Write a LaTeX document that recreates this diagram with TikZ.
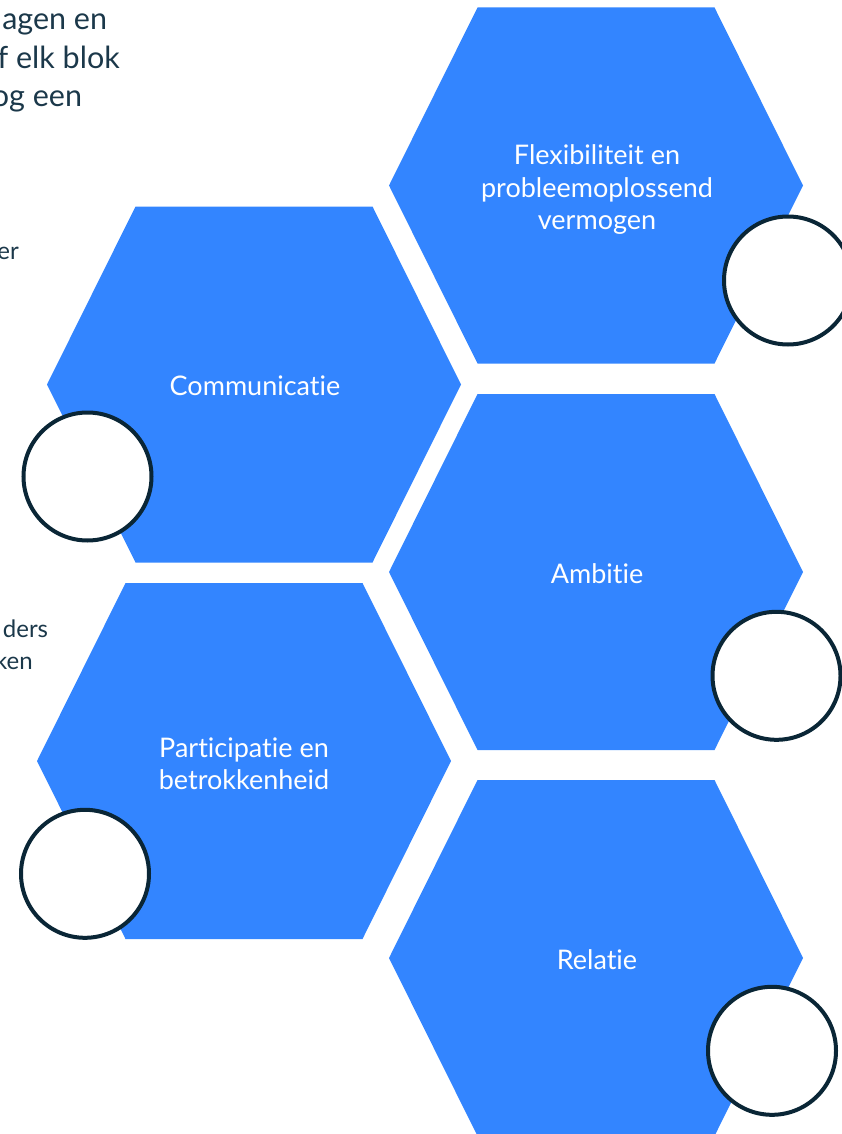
\documentclass[tikz,border=0pt]{standalone}
\usepackage{fontspec}
\setmainfont{Lato}[Ligatures=NoCommon]
\usetikzlibrary{positioning}
\definecolor{hexblue}{RGB}{51,133,255}
\definecolor{inktext}{RGB}{27,56,74}
\definecolor{inkring}{RGB}{10,38,54}

\begin{document}
\begin{tikzpicture}[x=1pt,y=-1pt,
  hexcell/.pic={\fill[hexblue] (-207,0) -- (-118.5,-178) -- (118.5,-178) -- (207,0) -- (118.5,178) -- (-118.5,178) -- cycle;},
  hexlabel/.style={text=white,font=\fontsize{27}{32.5}\selectfont,align=center,inner sep=0pt},
  ring/.style={circle,draw=inkring,line width=4pt,fill=white,minimum size=128pt,inner sep=0pt},
  intro/.style={text=inktext,font=\fontsize{30.5}{38}\selectfont,anchor=base east,inner sep=0pt},
  note/.style={text=inktext,font=\fontsize{24}{31.5}\selectfont,anchor=base east,inner sep=0pt}]
\useasboundingbox (0,0) rectangle (841,1134);

\pic at (596,185.5) {hexcell};
\pic at (254,384.5) {hexcell};
\pic at (596,572) {hexcell};
\pic at (244,761) {hexcell};
\pic at (596,958) {hexcell};

\node[hexlabel] (flex) at (597,190) {Flexibiliteit en\\probleemoplossend\\vermogen};
\node[hexlabel] (comm) at (255,386) {Communicatie};
\node[hexlabel] (amb) at (597,574) {Ambitie};
\node[hexlabel] (part) at (244,764) {Participatie en\\betrokkenheid};
\node[hexlabel] (rel) at (597,960) {Relatie};

\node[ring] (flexring) at (788,280.5) {};
\node[ring] (commring) at (87.5,476.5) {};
\node[ring] (ambring) at (776.5,675.8) {};
\node[ring] (partring) at (85,873.8) {};
\node[ring] (relring) at (772,1050.8) {};

\node[intro] (introa) at (107.3,30) {agen en};
\node[intro] (introb) at (120,68.3) {f elk blok};
\node[intro] (introc) at (82.3,106.7) {og een};

\node[note] (notea) at (19,259) {er};
\node[note] (noteb) at (48.3,637.7) {ders};
\node[note] (notec) at (33,669.3) {ken};
\end{tikzpicture}
\end{document}
